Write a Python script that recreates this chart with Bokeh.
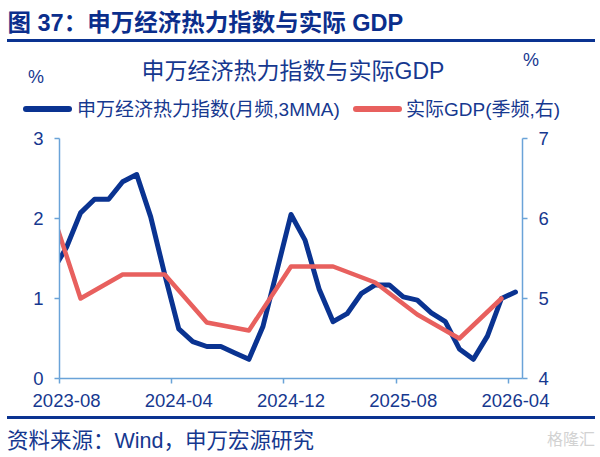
from bokeh.plotting import figure
from bokeh.layouts import column
from bokeh.models import Range1d, LinearAxis, FixedTicker, Div
from bokeh.embed import file_html
from bokeh.resources import INLINE

# 申万经济热力指数 (月频, 3MMA), 左轴
heat_months = ["2023-07", "2023-08", "2023-09", "2023-10", "2023-11", "2023-12",
               "2024-01", "2024-02", "2024-03", "2024-04", "2024-05", "2024-06",
               "2024-07", "2024-08", "2024-09", "2024-10", "2024-11", "2024-12",
               "2025-01", "2025-02", "2025-03", "2025-04", "2025-05", "2025-06",
               "2025-07", "2025-08", "2025-09", "2025-10", "2025-11", "2025-12",
               "2026-01", "2026-02", "2026-03", "2026-04"]
heat_values = [1.34, 1.64, 2.07, 2.24, 2.24, 2.46, 2.55, 2.02, 1.30, 0.62, 0.46, 0.40,
               0.40, 0.32, 0.24, 0.65, 1.35, 2.05, 1.73, 1.12, 0.71, 0.81, 1.06, 1.17,
               1.17, 1.02, 0.98, 0.82, 0.71, 0.37, 0.24, 0.53, 1.00, 1.08]

# 实际GDP (季频, 右轴)
gdp_months = ["2023-06", "2023-09", "2023-12", "2024-03", "2024-06", "2024-09",
              "2024-12", "2025-03", "2025-06", "2025-09", "2025-12", "2026-03"]
gdp_values = [6.6, 5.0, 5.3, 5.3, 4.7, 4.6, 5.4, 5.4, 5.2, 4.8, 4.5, 5.0]

tick_labels = ["2023-08", "2024-04", "2024-12", "2025-08", "2026-04"]
left_ticks = [0, 1, 2, 3]
right_ticks = [4, 5, 6, 7]

fig_title = "图 37：申万经济热力指数与实际 GDP"
chart_title = "申万经济热力指数与实际GDP"
heat_name = "申万经济热力指数(月频,3MMA)"
gdp_name = "实际GDP(季频,右)"
source_note = "资料来源：Wind，申万宏源研究"

BLUE = "#0a3391"
RED = "#e8605e"
TEXT = "#16388f"
AXIS = "#6aa3d8"
FONT = "'Liberation Sans', 'Noto Sans CJK SC'"


def month_pos(m, shift=0.5):
    y, mo = m.split("-")
    return (int(y) - 2023) * 12 + int(mo) - 8 + shift


def txt(s, left, top, size, color=TEXT, extra=""):
    return (f'<span style="position:absolute;left:{left}px;top:{top}px;'
            f'font-size:{size}px;line-height:1;color:{color};white-space:nowrap;{extra}">'
            f'{s}</span>')


def bar(left, top, w, h, color, radius=0):
    return (f'<span style="position:absolute;left:{left}px;top:{top}px;width:{w}px;'
            f'height:{h}px;background:{color};border-radius:{radius}px;"></span>')


def box(inner, h):
    return (f'<div style="position:relative;width:600px;height:{h}px;'
            f'font-family:{FONT};overflow:hidden;">{inner}</div>')


# ---------- header: figure title, chart title, units, legend ----------
head_html = (
    txt(fig_title, 7.5, 12.2, 23.5, "#0b2e8c", "font-weight:bold;")
    + bar(7, 39, 588, 3, BLUE)
    + txt(chart_title, 293, 59.5, 23, TEXT, "transform:translateX(-50%);")
    + txt("%", 36, 68, 18, TEXT, "transform:translateX(-50%);")
    + txt("%", 531, 51, 18, TEXT, "transform:translateX(-50%);")
    + bar(23, 106, 49, 5.5, BLUE, 3)
    + txt(heat_name, 77, 99.5, 19)
    + bar(353, 106, 49, 5.5, RED, 3)
    + txt(gdp_name, 406, 99.5, 19)
)
header = Div(text=box(head_html, 122), width=600, height=122, margin=0)

# ---------- main chart ----------
p = figure(width=600, height=293, output_backend="svg", toolbar_location=None,
           title=None, x_range=Range1d(0, 33), y_range=Range1d(0, 3),
           min_border_left=59, min_border_right=78,
           min_border_top=16, min_border_bottom=37,
           background_fill_color="white", border_fill_color="white")
p.outline_line_color = None
p.grid.visible = False
p.extra_y_ranges = {"gdp": Range1d(4, 7)}

p.line([month_pos(m) for m in heat_months], heat_values,
       line_color=BLUE, line_width=5, line_join="round", line_cap="round")
p.line([month_pos(m) for m in gdp_months], gdp_values, y_range_name="gdp",
       line_color=RED, line_width=4.5, line_join="round", line_cap="round")

# tick marks on month starts, labels half a month to the right
p.xaxis.ticker = FixedTicker(ticks=[month_pos(t, 0) for t in tick_labels])
p.xaxis.major_label_overrides = {month_pos(t, 0): "" for t in tick_labels}
p.xaxis.major_label_text_font_size = "1px"
p.xaxis.major_label_standoff = 0
p.yaxis.ticker = FixedTicker(ticks=left_ticks)

right = LinearAxis(y_range_name="gdp", ticker=FixedTicker(ticks=right_ticks))
p.add_layout(right, "right")

for ax in p.axis:
    ax.axis_line_color = AXIS
    ax.axis_line_width = 1.5
    ax.major_tick_line_color = AXIS
    ax.major_tick_line_width = 1.5
    ax.major_tick_out = 5
    ax.major_tick_in = 0
    ax.minor_tick_line_color = None
    ax.major_label_text_font = FONT
    ax.major_label_text_color = TEXT
for ax in p.yaxis + [right]:
    ax.major_label_text_font_size = "18.5px"
    ax.major_label_standoff = 11

xlab = LinearAxis(ticker=FixedTicker(ticks=[month_pos(t) for t in tick_labels]),
                  major_label_overrides={month_pos(t): t for t in tick_labels},
                  axis_line_color=None, major_tick_line_color=None,
                  minor_tick_line_color=None, major_tick_out=0, major_tick_in=0,
                  major_label_standoff=10, major_label_text_font=FONT,
                  major_label_text_font_size="18.5px", major_label_text_color=TEXT)
p.add_layout(xlab, "below")

# ---------- footer ----------
foot_html = (
    bar(7, 1, 588, 3, BLUE)
    + txt(source_note, 7, 16, 21.5)
    + txt("格隆汇", 547, 17, 16, "#d2d2d2")
)
footer = Div(text=box(foot_html, 42), width=600, height=42, margin=0)

layout = column(header, p, footer, spacing=0)
open("out.html", "w").write(file_html(layout, INLINE))
